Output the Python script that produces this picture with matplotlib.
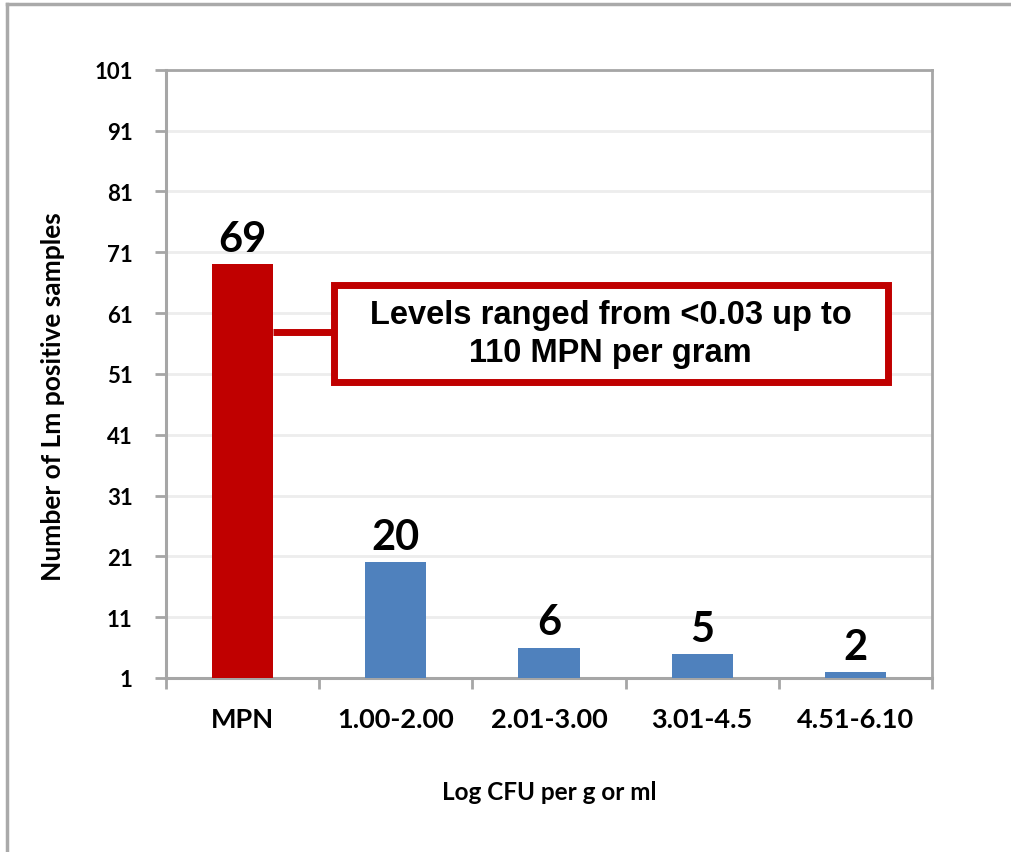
import matplotlib
matplotlib.use("Agg")
import matplotlib.pyplot as plt
from matplotlib.patches import Rectangle
from matplotlib.lines import Line2D

# Lm positive samples by enumeration level
categories = ["MPN", "1.00-2.00", "2.01-3.00", "3.01-4.5", "4.51-6.10"]
counts = [69, 20, 6, 5, 2]
bar_colors = ["#C00000", "#4F81BD", "#4F81BD", "#4F81BD", "#4F81BD"]
y_ticks = [1, 11, 21, 31, 41, 51, 61, 71, 81, 91, 101]
note = "Levels ranged from <0.03 up to\n110 MPN per gram"

label_font = "Lato"
note_font = "Liberation Sans"
axis_gray = "#A6A6A6"

fig = plt.figure(figsize=(10.12, 8.53), dpi=100)
ax = fig.add_axes([0.164, 0.204, 0.757, 0.713])

x = list(range(len(categories)))
bars = ax.bar(x, counts, width=0.4, color=bar_colors, zorder=3)

ax.set_xlim(-0.5, len(categories) - 0.5)
ax.set_ylim(1, 101)
ax.set_yticks(y_ticks)
ax.set_yticklabels([str(t) for t in y_ticks], fontfamily=label_font,
                   fontweight="bold", fontsize=16)
ax.set_xticks(x)
ax.set_xticklabels(categories, fontfamily=label_font, fontweight="bold",
                   fontsize=19.5)
ax.set_xticks([i - 0.5 for i in range(len(categories) + 1)], minor=True)

ax.tick_params(axis="y", length=8, width=2, color=axis_gray, pad=16)
ax.tick_params(axis="x", which="major", length=0, pad=21)
ax.tick_params(axis="x", which="minor", length=8, width=2, color=axis_gray)

ax.yaxis.grid(True, color="#EDEDED", linewidth=2, zorder=0)
ax.set_axisbelow(True)
for side in ["left", "bottom"]:
    ax.spines[side].set_color(axis_gray)
    ax.spines[side].set_linewidth(2.2)
for side in ["top", "right"]:
    ax.spines[side].set_color(axis_gray)
    ax.spines[side].set_linewidth(2)

ax.set_ylabel("Number of Lm positive samples", fontfamily=label_font,
              fontweight="bold", fontsize=19)
ax.yaxis.set_label_coords(-0.132, 0.465)
ax.set_xlabel("Log CFU per g or ml", fontfamily=label_font,
              fontweight="bold", fontsize=17.5, labelpad=35)

# value labels above the bars
for b, v in zip(bars, counts):
    ax.text(b.get_x() + b.get_width() / 2, v + 1.0, str(v),
            ha="center", va="bottom", fontfamily=label_font,
            fontweight="bold", fontsize=30, zorder=4)

# callout box linked to the MPN bar
box_x0, box_x1 = 0.595, 4.21
box_y0, box_y1 = 49.7, 65.6
link_y = 57.9
ax.add_patch(Rectangle((box_x0, box_y0), box_x1 - box_x0, box_y1 - box_y0,
                       facecolor="white", edgecolor="#C00000", linewidth=5,
                       zorder=5))
ax.plot([0.2, box_x0], [link_y, link_y], color="#C00000", linewidth=5,
        solid_capstyle="butt", zorder=5)
ax.text((box_x0 + box_x1) / 2, (box_y0 + box_y1) / 2, note, ha="center",
        va="center", fontfamily=note_font, fontweight="bold", fontsize=23.5,
        linespacing=1.27, zorder=6)

# outer chart frame
fig.add_artist(Line2D([0.007, 1.0], [0.994, 0.994], color="#AAAAAA",
                      linewidth=2.5, transform=fig.transFigure))
fig.add_artist(Line2D([0.007, 0.007], [0.0, 0.994], color="#AAAAAA",
                      linewidth=2.5, transform=fig.transFigure))

fig.savefig("out.png", dpi=100, facecolor="white")
